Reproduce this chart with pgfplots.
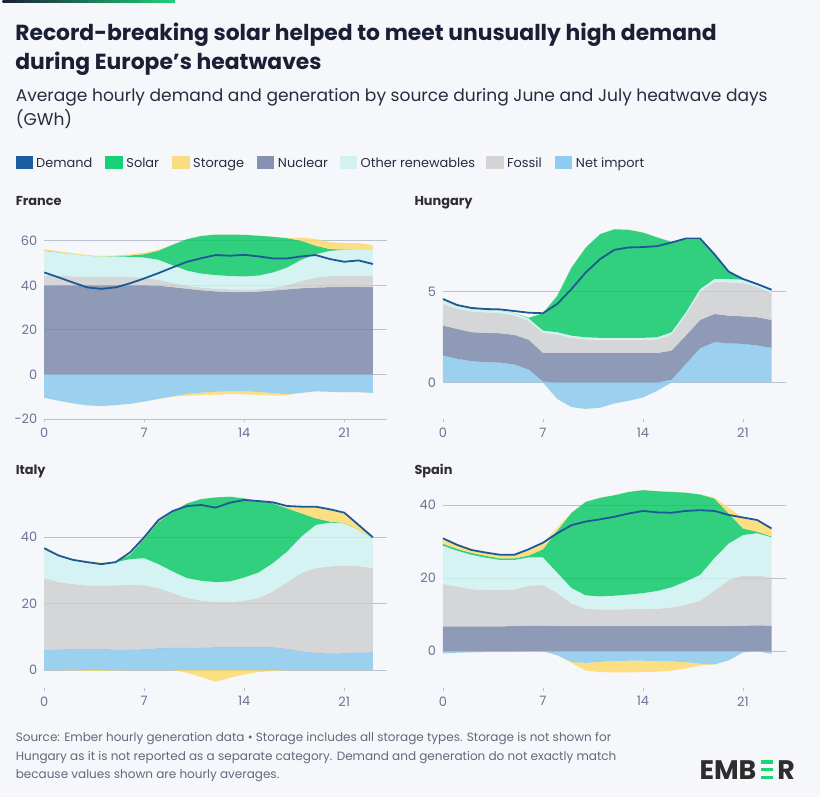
\documentclass[border=0pt]{standalone}
\usepackage{fontspec}
\setmainfont{Poppins}
\usepackage{pgfplots}
\pgfplotsset{compat=1.18}
\usepackage{pgfplotstable}
\usepgfplotslibrary{fillbetween}

\definecolor{bgc}{RGB}{245,247,251}
\definecolor{titc}{RGB}{26,31,54}
\definecolor{subc}{RGB}{40,44,62}
\definecolor{tickc}{RGB}{107,116,148}
\definecolor{gridc}{RGB}{188,193,207}
\definecolor{footc}{RGB}{100,105,122}
\definecolor{panc}{RGB}{45,45,50}
\definecolor{cDem}{RGB}{30,88,150}
% fill colours (drawn at 0.8 opacity)
\definecolor{cSolB}{RGB}{0,199,95}
\definecolor{cStoB}{RGB}{254,218,100}
\definecolor{cNucB}{RGB}{118,131,167}
\definecolor{cOthB}{RGB}{205,242,241}
\definecolor{cFosB}{RGB}{206,206,207}
\definecolor{cNetB}{RGB}{133,200,237}
% legend colours
\definecolor{lDem}{RGB}{27,94,158}
\definecolor{lSol}{RGB}{24,208,120}
\definecolor{lSto}{RGB}{250,220,130}
\definecolor{lNuc}{RGB}{134,144,176}
\definecolor{lOth}{RGB}{212,241,242}
\definecolor{lFos}{RGB}{212,212,214}
\definecolor{lNet}{RGB}{144,204,240}
\definecolor{embk}{RGB}{45,45,45}
\definecolor{emgr}{RGB}{30,210,120}

% columns: hour, storage(-) bottom, net import(-) bottom, net import(+) top,
% nuclear top, fossil top, other renewables top, solar top, storage(+) top, demand
\pgfplotstableread{
h  sn     nn     ni    nu    fo    ot    so    st    dem
0  -10.5  -10.5  0     40.0  44.5  55.5  55.6  56.2  45.8
1  -11.8  -11.8  0     40.0  44.3  54.8  54.9  55.3  43.6
2  -13.0  -13.0  0     40.0  44.0  54.0  54.0  54.4  41.3
3  -13.9  -13.9  0     40.0  43.8  53.3  53.3  53.6  39.1
4  -14.2  -14.2  0     40.0  43.7  53.0  53.0  53.2  38.4
5  -13.8  -13.8  0     40.0  43.7  53.0  53.2  53.4  39.1
6  -13.2  -13.2  0     40.0  43.7  52.8  53.4  53.9  40.9
7  -12.2  -12.2  0     40.0  43.5  52.5  54.0  54.7  43.1
8  -11.0  -11.0  0     39.8  42.5  51.5  55.6  56.0  45.5
9  -10.0  -9.8   0     39.2  41.0  49.0  58.3  58.3  48.1
10 -9.6   -8.8   0     38.5  39.8  46.6  60.8  60.8  50.6
11 -9.3   -8.2   0     37.8  39.0  45.3  62.2  62.2  52.2
12 -9.1   -7.8   0     37.3  38.5  44.6  62.8  62.8  53.6
13 -8.8   -7.6   0     37.0  38.2  44.2  62.8  62.8  53.3
14 -8.9   -7.5   0     36.9  38.0  44.0  62.7  62.7  53.7
15 -9.2   -7.9   0     37.2  38.2  44.4  62.3  62.3  53.0
16 -9.4   -8.4   0     37.7  38.8  45.8  61.8  61.8  52.1
17 -9.3   -8.9   0     38.2  40.0  48.0  61.2  61.2  52.1
18 -8.3   -8.3   0     38.7  42.0  51.5  60.0  61.5  53.0
19 -7.6   -7.6   0     39.0  43.5  54.0  57.8  60.8  53.6
20 -7.8   -7.8   0     39.2  44.2  55.5  56.3  59.4  51.8
21 -8.0   -8.0   0     39.3  44.4  56.0  56.1  59.0  50.6
22 -8.0   -8.0   0     39.3  44.4  56.2  56.2  59.0  51.2
23 -8.3   -8.3   0     39.2  44.2  56.0  56.0  58.0  49.6
}\FR

\pgfplotstableread{
h  sn     nn     ni    nu    fo    ot    so    st    dem
0  0      0      1.48  3.12  4.32  4.45  4.45  4.45  4.58
1  0      0      1.30  2.94  4.05  4.18  4.18  4.18  4.25
2  0      0      1.17  2.76  3.90  4.03  4.03  4.03  4.09
3  0      0      1.11  2.72  3.85  3.98  3.98  3.98  4.03
4  0      0      1.09  2.70  3.81  3.94  3.94  3.94  4.01
5  0      0      0.99  2.61  3.68  3.81  3.81  3.81  3.92
6  0      0      0.71  2.35  3.39  3.52  3.55  3.55  3.83
7  0      0      0.05  1.62  2.72  2.85  3.80  3.80  3.80
8  -0.90  -0.90  0     1.62  2.63  2.76  4.76  4.76  4.31
9  -1.35  -1.35  0     1.62  2.45  2.57  6.31  6.31  5.13
10 -1.45  -1.45  0     1.62  2.36  2.48  7.41  7.41  6.04
11 -1.38  -1.38  0     1.62  2.33  2.45  8.14  8.14  6.77
12 -1.15  -1.15  0     1.62  2.33  2.45  8.41  8.41  7.28
13 -1.00  -1.00  0     1.62  2.33  2.45  8.38  8.38  7.41
14 -0.82  -0.82  0     1.62  2.33  2.45  8.23  8.23  7.43
15 -0.45  -0.45  0     1.62  2.36  2.48  7.96  7.96  7.48
16 0      0      0.15  1.75  2.63  2.76  7.72  7.72  7.68
17 0      0      1.02  2.57  3.72  3.85  7.85  7.85  7.90
18 0      0      1.88  3.43  4.98  5.13  7.85  7.85  7.90
19 0      0      2.21  3.76  5.50  5.68  7.00  7.00  7.04
20 0      0      2.15  3.67  5.50  5.68  6.05  6.05  6.08
21 0      0      2.12  3.63  5.46  5.64  5.70  5.70  5.68
22 0      0      2.03  3.58  5.24  5.40  5.42  5.42  5.40
23 0      0      1.90  3.43  4.90  5.04  5.05  5.05  5.09
}\HU

\pgfplotstableread{
h  sn     nn     ni    nu    fo    ot    so    st    dem
0  0      0      6.0   6.0   27.7  36.2  36.2  36.5  36.7
1  0      0      6.2   6.2   26.5  34.5  34.5  34.7  34.5
2  -0.1   0      6.4   6.4   25.9  33.2  33.2  33.4  33.2
3  -0.2   0      6.4   6.4   25.5  32.7  32.7  32.8  32.5
4  -0.2   0      6.4   6.4   25.4  32.2  32.2  32.3  31.9
5  -0.1   0      6.2   6.2   25.5  32.5  32.6  32.7  32.5
6  0      0      6.2   6.2   25.7  33.4  34.7  35.0  35.4
7  0      0      6.3   6.3   25.5  33.7  39.5  39.8  40.0
8  0      0      6.6   6.6   24.7  31.9  44.6  44.8  45.2
9  0      0      6.7   6.7   23.2  29.7  47.7  47.7  47.9
10 -0.8   0      6.7   6.7   21.7  27.7  50.2  50.2  49.4
11 -2.1   0      6.8   6.8   20.9  26.9  51.5  51.5  49.7
12 -3.5   0      6.9   6.9   20.5  26.5  52.0  52.0  48.9
13 -2.3   0      6.9   6.9   20.5  26.7  52.2  52.2  50.4
14 -1.3   0      6.9   6.9   20.9  27.9  51.7  51.7  51.2
15 -0.6   0      6.9   6.9   21.7  29.4  50.9  50.9  50.9
16 -0.3   0      6.9   6.9   23.7  32.2  50.2  50.2  50.5
17 0      0      6.4   6.4   26.4  35.7  48.7  49.1  49.4
18 0      0      5.7   5.7   29.2  40.2  47.2  49.0  49.2
19 0      0      5.2   5.2   30.7  43.7  45.7  49.0  49.2
20 0      0      5.0   5.0   31.2  44.4  44.7  48.2  48.4
21 0      0      5.1   5.1   31.5  44.2  44.3  47.0  47.4
22 0      0      5.3   5.3   31.3  42.2  42.2  43.5  43.7
23 0      0      5.4   5.4   30.7  39.7  39.7  40.0  40.0
}\IT

\pgfplotstableread{
h  sn     nn     ni    nu    fo    ot    so    st    dem
0  -0.6   -0.6   0     6.8   18.4  28.9  29.4  31.0  30.9
1  -0.4   -0.4   0     6.8   17.7  27.5  28.0  29.4  29.1
2  -0.3   -0.3   0     6.8   17.0  26.4  26.9  28.0  27.7
3  -0.2   -0.2   0     6.8   16.7  25.6  26.1  27.2  27.0
4  -0.2   -0.2   0     6.8   16.7  25.0  25.4  26.6  26.4
5  -0.1   -0.1   0     6.9   16.9  25.0  25.4  26.6  26.4
6  0      0      0.1   7.0   17.9  25.7  26.2  27.6  27.9
7  0      0      0.1   7.0   18.1  25.7  27.9  29.6  29.7
8  -1.1   -1.1   0     6.9   15.9  21.5  33.0  33.8  32.3
9  -3.2   -2.9   0     6.9   13.0  17.3  37.9  37.9  34.5
10 -5.3   -3.2   0     6.9   11.6  15.3  40.9  40.9  35.5
11 -5.7   -2.9   0     6.9   11.4  15.0  42.0  42.0  36.1
12 -5.8   -2.7   0     6.9   11.4  15.2  42.7  42.7  36.8
13 -5.8   -2.6   0     6.9   11.5  15.5  43.6  43.6  37.7
14 -5.7   -2.6   0     6.9   11.5  15.9  44.1  44.1  38.4
15 -5.6   -2.7   0     6.9   11.6  16.5  43.8  43.8  38.0
16 -5.3   -2.8   0     6.9   12.0  17.5  43.6  43.6  37.9
17 -4.7   -3.0   0     6.9   12.7  19.1  43.4  43.4  38.4
18 -3.9   -3.4   0     6.9   13.8  20.9  42.9  42.9  38.6
19 -3.6   -3.6   0     6.9   16.5  25.5  41.8  42.0  38.4
20 -2.5   -2.5   0     6.9   19.5  29.5  37.7  39.3  37.3
21 -0.3   -0.3   0     7.0   20.7  31.8  33.6  36.4  36.6
22 0      0      0.1   7.1   20.7  32.3  32.7  35.5  35.9
23 -0.7   -0.7   0     7.0   20.2  31.2  31.4  33.6  33.6
}\ES

\pgfplotsset{
  panel/.style={
    scale only axis, width=344bp, xmin=0, xmax=24, clip=false,
    axis line style={draw=none},
    xtick={0,7,14,21}, xticklabels={0,7,14,21},
    tick align=outside, major tick length=3.5bp,
    xtick pos=left, ytick pos=left,
    ytick style={draw=none},
    xtick style={draw=gridc, line width=0.8bp},
    ymajorgrids, grid style={draw=gridc, line width=0.8bp},
    tick label style={font=\fontsize{13}{15}\selectfont, text=tickc},
    yticklabel style={anchor=east},
    xticklabel style={yshift=-1.8bp},
    no marks,
    area/.style={draw=none, fill opacity=0.8},
    demand/.style={draw=cDem, line width=1.8bp, line join=round},
  }
}

\newcommand{\drawstack}[2]{%
  \addplot[draw=none,name path=#2sn] table[x=h,y=sn]{#1};
  \addplot[draw=none,name path=#2nn] table[x=h,y=nn]{#1};
  \addplot[draw=none,name path=#2ni] table[x=h,y=ni]{#1};
  \addplot[draw=none,name path=#2nu] table[x=h,y=nu]{#1};
  \addplot[draw=none,name path=#2fo] table[x=h,y=fo]{#1};
  \addplot[draw=none,name path=#2ot] table[x=h,y=ot]{#1};
  \addplot[draw=none,name path=#2so] table[x=h,y=so]{#1};
  \addplot[draw=none,name path=#2st] table[x=h,y=st]{#1};
  \addplot[area,fill=cStoB] fill between[of=#2sn and #2nn];
  \addplot[area,fill=cNetB] fill between[of=#2nn and #2ni];
  \addplot[area,fill=cNucB] fill between[of=#2ni and #2nu];
  \addplot[area,fill=cFosB] fill between[of=#2nu and #2fo];
  \addplot[area,fill=cOthB] fill between[of=#2fo and #2ot];
  \addplot[area,fill=cSolB] fill between[of=#2ot and #2so];
  \addplot[area,fill=cStoB] fill between[of=#2so and #2st];
  \addplot[demand] table[x=h,y=dem]{#1};
}

\begin{document}
\pagecolor{bgc}
\begin{tikzpicture}[x=1bp,y=1bp]
\path (0,0) rectangle (820,800);
\shade[left color=titc, right color=emgr] (0,797) rectangle (173,800);

% title and subtitle (anchored at the baseline of their last line)
\node[anchor=base west, inner sep=0pt, align=left, text=titc,
      font=\fontsize{22}{28.3}\selectfont\bfseries] at (12.5,730.7)
  {Record-breaking solar helped to meet unusually high demand\\during Europe{\char39}s heatwaves};
\node[anchor=base west, inner sep=0pt, align=left, text=subc,
      font=\fontsize{17.2}{23.7}\selectfont] at (13,674.3)
  {Average hourly demand and generation by source during June and July heatwave days\\(GWh)};

% legend
\begin{scope}[font=\fontsize{13}{15}\selectfont, text=subc]
\fill[lDem] (13,630.5) rectangle (30.5,643.5);
\node[anchor=base west, inner sep=0pt] at (33.5,632.3) {Demand};
\fill[lSol] (103,630.5) rectangle (120.5,643.5);
\node[anchor=base west, inner sep=0pt] at (124,632.3) {Solar};
\fill[lSto] (170,630.5) rectangle (187.5,643.5);
\node[anchor=base west, inner sep=0pt] at (191,632.3) {Storage};
\fill[lNuc] (255,630.5) rectangle (272.5,643.5);
\node[anchor=base west, inner sep=0pt] at (276,632.3) {Nuclear};
\fill[lOth] (338,630.5) rectangle (355.5,643.5);
\node[anchor=base west, inner sep=0pt] at (359,632.3) {Other renewables};
\fill[lFos] (485,630.5) rectangle (502.5,643.5);
\node[anchor=base west, inner sep=0pt] at (506,632.3) {Fossil};
\fill[lNet] (554,630.5) rectangle (571.5,643.5);
\node[anchor=base west, inner sep=0pt] at (575,632.3) {Net import};
\end{scope}

% panel titles
\begin{scope}[font=\fontsize{13}{15}\selectfont\bfseries, text=panc]
\node[anchor=base west, inner sep=0pt] at (13,594.3) {France};
\node[anchor=base west, inner sep=0pt] at (413,594.3) {Hungary};
\node[anchor=base west, inner sep=0pt] at (13,324.3) {Italy};
\node[anchor=base west, inner sep=0pt] at (413,324.3) {Spain};
\end{scope}

% France
\begin{axis}[panel, at={(41.7bp,379.7bp)}, anchor=south west,
  height=192.1bp, ymin=-20, ymax=66,
  ytick={-20,0,20,40,60}, yticklabels={-20,0,20,40,60}]
\drawstack{\FR}{fr}
\end{axis}

% Hungary
\begin{axis}[panel, at={(441.7bp,379.7bp)}, anchor=south west,
  height=193.8bp, ymin=-2, ymax=8.6,
  ytick={0,5}, yticklabels={0,5}]
\drawstack{\HU}{hu}
\end{axis}

% Italy
\begin{axis}[panel, at={(41.7bp,110bp)}, anchor=south west,
  height=194.35bp, ymin=-5.31, ymax=53,
  ytick={0,20,40}, yticklabels={0,20,40}]
\drawstack{\IT}{it}
\end{axis}

% Spain
\begin{axis}[panel, at={(441.7bp,110bp)}, anchor=south west,
  height=201.6bp, ymin=-10, ymax=45,
  ytick={0,20,40}, yticklabels={0,20,40}]
\drawstack{\ES}{es}
\end{axis}

% footer
\begin{scope}[font=\fontsize{12.1}{14}\selectfont, text=footc]
\node[anchor=base west, inner sep=0pt] at (13,56) {Source: Ember hourly generation data • Storage includes all storage types. Storage is not shown for};
\node[anchor=base west, inner sep=0pt] at (13,37.3) {Hungary as it is not reported as a separate category. Demand and generation do not exactly match};
\node[anchor=base west, inner sep=0pt] at (13,18.6) {because values shown are hourly averages.};
\end{scope}

% logo
\node[anchor=base west, inner sep=0pt, text=embk, font=\fontsize{27}{30}\selectfont\bfseries] at (699,18.3) {EMB};
\fill[emgr] (761,33.8) rectangle (773.3,37.3);
\fill[emgr] (761,26.0) rectangle (773.3,29.5);
\fill[emgr] (761,18.3) rectangle (773.3,21.8);
\node[anchor=base west, inner sep=0pt, text=embk, font=\fontsize{27}{30}\selectfont\bfseries] at (777,18.3) {R};
\end{tikzpicture}
\end{document}
